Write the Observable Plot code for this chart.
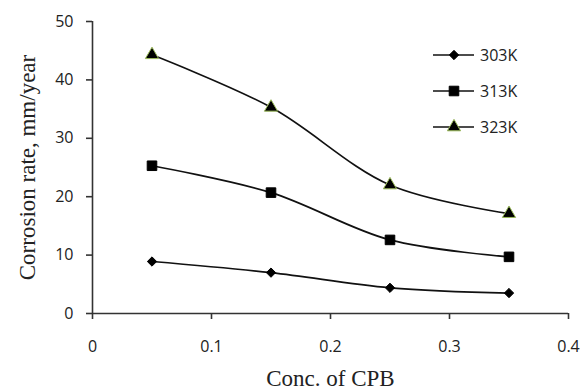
<!DOCTYPE html>
<html>
<head>
<meta charset="utf-8">
<script src="https://cdn.jsdelivr.net/npm/d3@7"></script>
<script src="https://cdn.jsdelivr.net/npm/@observablehq/plot@0.6"></script>
<style>
  html, body { margin: 0; padding: 0; background: #fff; }
  #wrap { position: relative; width: 584px; height: 391px; overflow: hidden; }
  #wrap svg { overflow: hidden; }
  g[aria-label="y-axis label"] text, g[aria-label="x-axis label"] text {
    font-family: "Liberation Serif", "DejaVu Serif", serif;
    font-size: 23px;
    fill: #222;
  }
  #legend { position: absolute; left: 0; top: 0; pointer-events: none; }
</style>
</head>
<body>
<div id="wrap"></div>
<script>
// ---- data ----
const conc = [0.05, 0.15, 0.25, 0.35];
const series = ["303K", "313K", "323K"];
const rate303 = [8.9, 7.0, 4.4, 3.5];
const rate313 = [25.3, 20.7, 12.6, 9.7];
const rate323 = [44.3, 35.3, 22.0, 17.1];
const xTicks = [0, 0.1, 0.2, 0.3, 0.4];
const xTickLabels = ["0", "0.1", "0.2", "0.3", "0.4"];
const yTicks = [0, 10, 20, 30, 40, 50];
const yTickLabels = ["0", "10", "20", "30", "40", "50"];
const xTitle = "Conc. of CPB";
const yTitle = "Corrosion rate, mm/year";

const values = {"303K": rate303, "313K": rate313, "323K": rate323};
const symbols = {"303K": "diamond2", "313K": "square", "323K": "triangle"};
const symR = {"303K": 4.2, "313K": 5.4, "323K": 4.9};
const symStroke = {"303K": "#000", "313K": "#000", "323K": "#9bbb59"};

const rows = [];
for (const s of series) conc.forEach((c, i) => rows.push({series: s, conc: c, rate: values[s][i]}));

const font = "'Open Sans', 'Noto Sans', sans-serif";

const marks = [
  Plot.ruleY([0], {stroke: "#333", strokeWidth: 1.6}),
  Plot.ruleX([0], {stroke: "#333", strokeWidth: 1.6}),
  Plot.axisX({
    ticks: xTicks, tickFormat: (d) => xTickLabels[xTicks.indexOf(d)],
    tickSize: 6, tickPadding: 21, stroke: "#333", strokeWidth: 1.6,
    fontSize: 16, fontFamily: font, fill: "#222",
    label: xTitle, labelAnchor: "center", labelArrow: "none", labelOffset: 72
  }),
  Plot.axisY({
    ticks: yTicks, tickFormat: (d) => yTickLabels[yTicks.indexOf(d)],
    tickSize: 6, tickPadding: 13, stroke: "#333", strokeWidth: 1.6,
    fontSize: 16, fontFamily: font, fill: "#222",
    label: yTitle, labelAnchor: "center", labelArrow: "none", labelOffset: 74
  })
];
for (const s of series) {
  const d = rows.filter(r => r.series === s);
  marks.push(Plot.line(d, {x: "conc", y: "rate", curve: "catmull-rom", stroke: "#111", strokeWidth: 1.7}));
  marks.push(Plot.dot(d, {x: "conc", y: "rate", symbol: () => symbols[s], r: symR[s], fill: "#000", stroke: symStroke[s], strokeWidth: 1}));
}

const chart = Plot.plot({
  width: 584, height: 391,
  marginLeft: 92, marginRight: 16, marginTop: 21, marginBottom: 78,
  x: {domain: [0, 0.4]},
  y: {domain: [0, 50]},
  symbol: {type: "identity"},
  style: {background: "#fff"},
  marks
});
const wrap = document.getElementById("wrap");
wrap.appendChild(chart);

// ---- legend (overlay) ----
const leg = d3.select(wrap).append("svg").attr("id", "legend").attr("width", 584).attr("height", 391);
const legSym = {"303K": d3.symbolDiamond2, "313K": d3.symbolSquare, "323K": d3.symbolTriangle};
series.forEach((s, i) => {
  const g = leg.append("g").attr("transform", `translate(433, ${55 + i * 36})`);
  g.append("line").attr("x1", 0).attr("x2", 41).attr("y1", 0).attr("y2", 0).attr("stroke", "#111").attr("stroke-width", 1.7);
  g.append("path").attr("transform", "translate(21,0)")
    .attr("d", d3.symbol(legSym[s], Math.PI * symR[s] * symR[s])())
    .attr("fill", "#000").attr("stroke", symStroke[s]).attr("stroke-width", 1);
  g.append("text").attr("x", 47).attr("y", 0).attr("dy", "0.35em").text(s)
    .attr("font-family", font).attr("font-size", 16).attr("fill", "#222");
});
</script>
</body>
</html>
